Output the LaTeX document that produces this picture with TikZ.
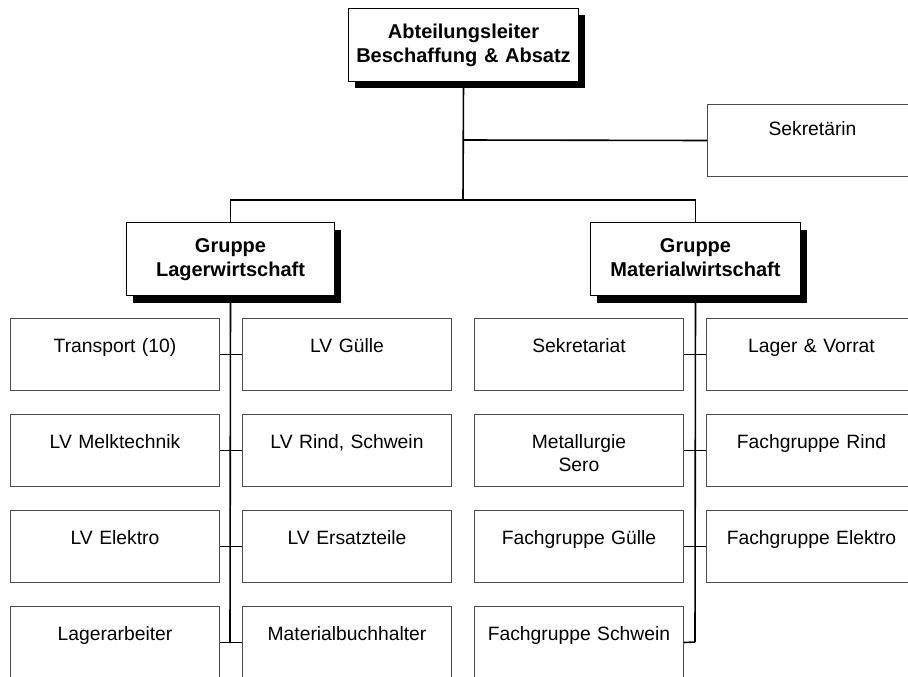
\documentclass[tikz,border=0pt]{standalone}
\usepackage{fontspec}
\setmainfont{Liberation Sans}
\usetikzlibrary{shadows}
\begin{document}
\begin{tikzpicture}[x=1pt,y=-1pt,
  unit/.style={draw=black!70, line width=1pt, fill=white,
    minimum width=209pt, minimum height=72pt, anchor=north west, inner sep=0pt},
  lead/.style={draw=black, line width=1pt, fill=white, anchor=north west,
    inner sep=0pt, minimum height=73pt,
    drop shadow={shadow xshift=6pt, shadow yshift=-7pt, fill=black, opacity=1}},
  lbl/.style={anchor=base, inner sep=0pt, align=center, text width=200pt,
    font=\fontsize{19.3}{23}\selectfont},
  boldlbl/.style={lbl, font=\fontsize{20}{24}\selectfont\bfseries},
  link/.style={line width=1.6pt, draw=black}
]
\useasboundingbox (0,0) rectangle (908,677);
\clip (0,0) rectangle (908,677);

% head of department and secretary
\node[lead, minimum width=230pt] (head) at (348,8) {};
\node[boldlbl, text width=226pt] at ([yshift=-31pt]head.north) {Abteilungsleiter\\Beschaffung \& Absatz};
\node[unit, minimum width=210pt] (sek) at (707,104) {};
\node[lbl] at ([yshift=-31pt]sek.north) {Sekretärin};

% the two groups
\node[lead, minimum width=208pt] (gl) at (126,222) {};
\node[boldlbl] at ([yshift=-30pt]gl.north) {Gruppe\\Lagerwirtschaft};
\node[lead, minimum width=210pt] (gm) at (590,222) {};
\node[boldlbl] at ([yshift=-30pt]gm.north) {Gruppe\\Materialwirtschaft};

% Lagerwirtschaft units
\node[unit] (l1) at (10,318) {};
\node[unit] (l2) at (10,414) {};
\node[unit] (l3) at (10,510) {};
\node[unit] (l4) at (10,606) {};
\node[unit] (r1) at (242,318) {};
\node[unit] (r2) at (242,414) {};
\node[unit] (r3) at (242,510) {};
\node[unit] (r4) at (242,606) {};
\node[lbl] at ([yshift=-34pt]l1.north) {Transport (10)};
\node[lbl] at ([yshift=-34pt]l2.north) {LV Melktechnik};
\node[lbl] at ([yshift=-34pt]l3.north) {LV Elektro};
\node[lbl] at ([yshift=-34pt]l4.north) {Lagerarbeiter};
\node[lbl] at ([yshift=-34pt]r1.north) {LV Gülle};
\node[lbl] at ([yshift=-34pt]r2.north) {LV Rind, Schwein};
\node[lbl] at ([yshift=-34pt]r3.north) {LV Ersatzteile};
\node[lbl] at ([yshift=-34pt]r4.north) {Materialbuchhalter};

% Materialwirtschaft units
\node[unit] (m1) at (474,318) {};
\node[unit] (m2) at (474,414) {};
\node[unit] (m3) at (474,510) {};
\node[unit] (m4) at (474,606) {};
\node[unit, minimum width=210pt] (n1) at (706,318) {};
\node[unit, minimum width=210pt] (n2) at (706,414) {};
\node[unit, minimum width=210pt] (n3) at (706,510) {};
\node[lbl] at ([yshift=-34pt]m1.north) {Sekretariat};
\node[lbl] at ([yshift=-34pt]m2.north) {Metallurgie\\Sero};
\node[lbl] at ([yshift=-34pt]m3.north) {Fachgruppe Gülle};
\node[lbl] at ([yshift=-34pt]m4.north) {Fachgruppe Schwein};
\node[lbl] at ([yshift=-34pt]n1.north) {Lager \& Vorrat};
\node[lbl] at ([yshift=-34pt]n2.north) {Fachgruppe Rind};
\node[lbl] at ([yshift=-34pt]n3.north) {Fachgruppe Elektro};

% connectors
\coordinate (hub) at (463,200);
\coordinate (sekj) at (463,140);
\coordinate (lend) at (230,642);
\coordinate (mend) at (695,642);
\draw[link] (head.south) -- (hub);
\draw[link] (sekj) -- (sek.west);
\draw[link] (gl.north) |- (hub) -| (gm.north);
\draw[link] (gl.south) -- (lend);
\draw[link] (gm.south) -- (mend);
\draw[link] (l1.east) -- (r1.west);
\draw[link] (l2.east) -- (r2.west);
\draw[link] (l3.east) -- (r3.west);
\draw[link] (l4.east) -- (r4.west);
\draw[link] (m1.east) -- (n1.west);
\draw[link] (m2.east) -- (n2.west);
\draw[link] (m3.east) -- (n3.west);
\draw[link] (m4.east) -- (mend);
\end{tikzpicture}
\end{document}
